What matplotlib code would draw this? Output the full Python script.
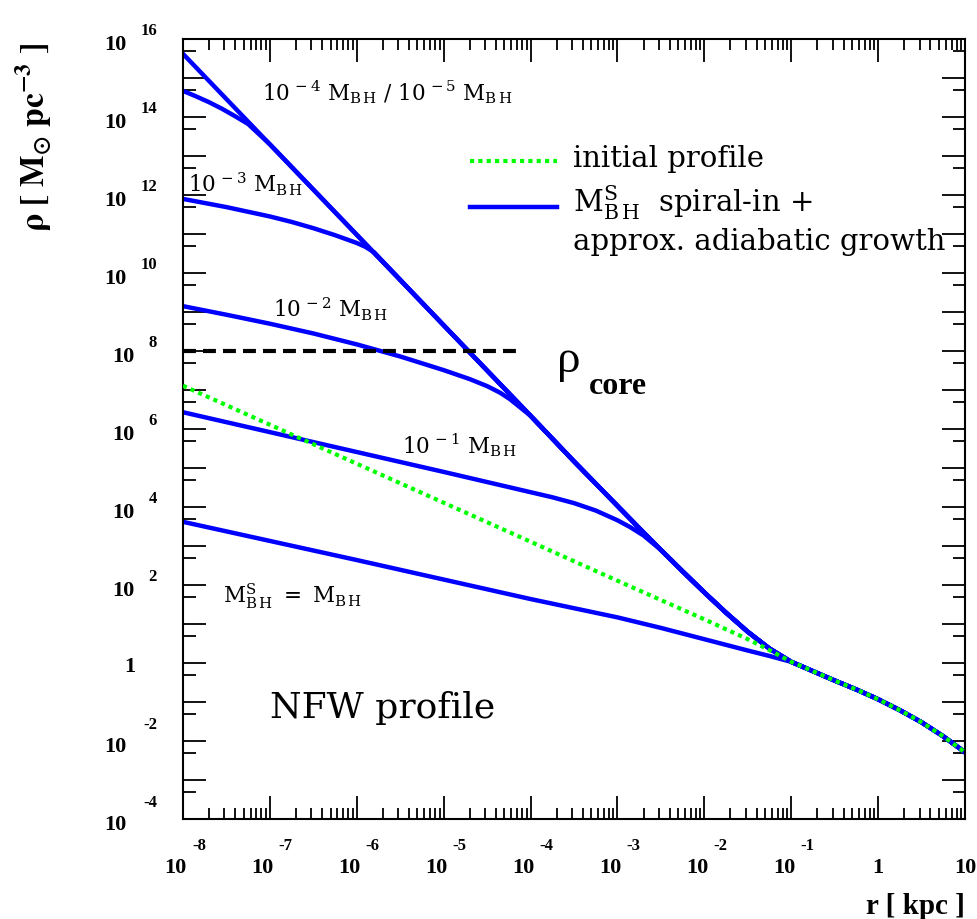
import numpy as np
import matplotlib
matplotlib.use("Agg")
import matplotlib.pyplot as plt
from matplotlib import transforms
from matplotlib.lines import Line2D
from matplotlib.ticker import LogLocator, NullFormatter

plt.rcParams["font.family"] = ["Liberation Serif", "DejaVu Serif"]
plt.rcParams["mathtext.fontset"] = "dejavuserif"
plt.rcParams["mathtext.default"] = "rm"

# all profiles as log10(r / kpc), log10(rho / Msun pc^-3)

# initial NFW profile
nfw_logr = [-8, -7, -6, -5, -4, -3, -2, -1.5, -1.25, -1, -0.75, -0.5, -0.25, 0, 0.25, 0.5, 0.75, 1]
nfw_logrho = [7.11, 6.11, 5.11, 4.11, 3.11, 2.11, 1.12, 0.61, 0.33, 0.03, -0.21, -0.45, -0.68,
              -0.93, -1.21, -1.52, -1.88, -2.29]

# 10^-5 M_BH run: the r^-7/3 spike that the other runs join further out
spike_logr = [-8, -7, -6, -5, -4.5, -4, -3.5, -3.25, -3, -2.75, -2.5, -2.25, -2, -1.75, -1.5,
              -1.25, -1, -0.75, -0.5, -0.25, 0, 0.25, 0.5, 0.75, 1]
spike_logrho = [15.62, 13.30, 10.98, 8.66, 7.50, 6.34, 5.17, 4.60, 4.03, 3.46, 2.90, 2.35, 1.81,
                1.29, 0.80, 0.37, 0.03, -0.21, -0.45, -0.68, -0.93, -1.21, -1.52, -1.88, -2.29]

# inner parts of the other runs, up to where they meet the spike
m4_logr = [-8, -7.85, -7.7, -7.55, -7.4, -7.25]
m4_logrho = [14.67, 14.53, 14.38, 14.21, 14.02, 13.82]

m3_logr = [-8, -7.5, -7, -6.75, -6.5, -6.25, -6, -5.9, -5.8]
m3_logrho = [11.90, 11.69, 11.45, 11.31, 11.15, 10.97, 10.77, 10.67, 10.53]

m2_logr = [-8, -7.5, -7, -6.5, -6, -5.5, -5, -4.7, -4.5, -4.35, -4.24]
m2_logrho = [9.15, 8.93, 8.70, 8.45, 8.17, 7.86, 7.51, 7.28, 7.10, 6.93, 6.77]

m1_logr = [-8, -7, -6, -5, -4, -3.75, -3.5, -3.25, -3, -2.85, -2.7]
m1_logrho = [6.43, 5.92, 5.41, 4.90, 4.38, 4.25, 4.10, 3.91, 3.66, 3.48, 3.27]

m0_logr = [-8, -7, -6, -5, -4, -3, -2.5, -2, -1.5, -1.25]
m0_logrho = [3.62, 3.13, 2.64, 2.14, 1.64, 1.17, 0.90, 0.61, 0.32, 0.18]

rho_core = 1e8
core_rmax = 8e-5

x_exps = [-8, -7, -6, -5, -4, -3, -2, -1, 0, 1]
y_exps = [16, 14, 12, 10, 8, 6, 4, 2, 0, -2, -4]


def with_spike(lr, lrho):
    # continue an inner profile along the spike beyond its last point
    xs = list(lr) + [x for x in spike_logr if x > lr[-1]]
    ys = list(lrho) + [y for x, y in zip(spike_logr, spike_logrho) if x > lr[-1]]
    return 10.0 ** np.array(xs), 10.0 ** np.array(ys)


fig = plt.figure(figsize=(9.78, 9.2), dpi=100)
ax = fig.add_axes([0.1871, 0.1087, 0.7996, 0.8478])
ax.set_xscale("log")
ax.set_yscale("log")
ax.set_xlim(1e-8, 10)
ax.set_ylim(1e-4, 1e16)

blue = "#0000ff"
ax.plot(10.0 ** np.array(spike_logr), 10.0 ** np.array(spike_logrho), color=blue, lw=3.2)
for lr, lrho in [(m4_logr, m4_logrho), (m3_logr, m3_logrho), (m2_logr, m2_logrho),
                 (m1_logr, m1_logrho), (m0_logr, m0_logrho)]:
    r, rho = with_spike(lr, lrho)
    ax.plot(r, rho, color=blue, lw=3.2)

ax.plot(10.0 ** np.array(nfw_logr), 10.0 ** np.array(nfw_logrho), color="#00ff00", lw=3,
        ls=(0, (1, 1)), zorder=3)

ax.hlines(rho_core, 1e-8, core_rmax, colors="black", lw=3, linestyles=(0, (3.1, 1.7)))

# frame and ticks
for sp in ax.spines.values():
    sp.set_linewidth(1.5)
ax.xaxis.set_major_locator(LogLocator(base=10, numticks=30))
ax.xaxis.set_minor_locator(LogLocator(base=10, subs=np.arange(2, 10), numticks=30))
ax.yaxis.set_major_locator(LogLocator(base=10, numticks=50))
ax.yaxis.set_minor_locator(LogLocator(base=10, subs=(5.0,), numticks=50))
for a in (ax.xaxis, ax.yaxis):
    a.set_major_formatter(NullFormatter())
    a.set_minor_formatter(NullFormatter())
ax.tick_params(which="both", direction="in", top=True, right=True, width=1.3, color="black")
ax.tick_params(which="major", length=16.5)
ax.tick_params(axis="x", which="minor", length=8)
ax.tick_params(axis="y", which="minor", length=9)

# tick labels: "10" with a raised exponent
big = dict(fontsize=16, fontweight="bold", family="Liberation Serif")
small = dict(fontsize=12, fontweight="bold", family="Liberation Serif")
ytr = ax.get_yaxis_transform()
for e in y_exps:
    if e == 0:
        ax.text(0, 1.0, "1", ha="right", va="baseline",
                transform=transforms.offset_copy(ytr, fig=fig, x=-48, y=-8, units="dots"), **big)
        continue
    s = str(e)
    dx = -56 if len(s) == 2 else -48
    dy = 5 if e > 0 else 13
    ax.text(0, 10.0 ** e, "10", ha="right", va="baseline",
            transform=transforms.offset_copy(ytr, fig=fig, x=dx, y=-10, units="dots"), **big)
    ax.text(0, 10.0 ** e, s, ha="right", va="baseline",
            transform=transforms.offset_copy(ytr, fig=fig, x=-26, y=dy, units="dots"), **small)

xtr = ax.get_xaxis_transform()
for e in x_exps:
    if e in (0, 1):
        ax.text(10.0 ** e, 0, "1" if e == 0 else "10", ha="center", va="baseline",
                transform=transforms.offset_copy(xtr, fig=fig, x=0, y=-53, units="dots"), **big)
        continue
    ax.text(10.0 ** e, 0, "10", ha="right", va="baseline",
            transform=transforms.offset_copy(xtr, fig=fig, x=4, y=-53, units="dots"), **big)
    ax.text(10.0 ** e, 0, str(e), ha="left", va="baseline",
            transform=transforms.offset_copy(xtr, fig=fig, x=9, y=-30, units="dots"), **small)

fig.text(0.9867, 0.006, "r [ kpc ]", ha="right", va="baseline", fontsize=21,
         fontweight="bold", family="Liberation Serif")
fig.text(0.034, 0.851, r"$\mathbf{\rho\ [\ M_{\odot}\ pc^{-3}\ ]}$", rotation=90,
         ha="center", va="center", fontsize=24, math_fontfamily="stix")

# curve labels
bh = r"\mathrm{M}_{\mathrm{B\,H}}"
lab = dict(fontsize=15.5, ha="left", va="baseline", transform=ax.transAxes)
ax.text(0.101, 0.922, r"$10^{\,-4}\ " + bh + r"\ /\ 10^{\,-5}\ " + bh + "$", **lab)
ax.text(0.0064, 0.804, r"$10^{\,-3}\ " + bh + "$", **lab)
ax.text(0.115, 0.645, r"$10^{\,-2}\ " + bh + "$", **lab)
ax.text(0.280, 0.4705, r"$10^{\,-1}\ " + bh + "$", **lab)
ax.text(0.051, 0.278, r"$\mathrm{M}^{\mathrm{S}}_{\mathrm{B\,H}}\ =\ " + bh + "$", **lab)
ax.text(0.111, 0.131, "NFW profile", fontsize=26, ha="left", va="baseline",
        transform=ax.transAxes, family="DejaVu Serif")

ax.text(0.478, 0.575, "\u03c1", fontsize=34, ha="left", va="baseline",
        transform=ax.transAxes, family="Liberation Serif")
ax.text(0.519, 0.575, "core", fontsize=23, fontweight="bold", ha="left", va="top",
        transform=ax.transAxes, family="Liberation Serif")

# legend
ax.add_line(Line2D([0.367, 0.478], [0.8436, 0.8436], transform=ax.transAxes,
                   color="#00ff00", lw=3, ls=(0, (1, 1))))
ax.add_line(Line2D([0.367, 0.478], [0.7846, 0.7846], transform=ax.transAxes,
                   color=blue, lw=3.2))
leg = dict(fontsize=21, ha="left", va="baseline", transform=ax.transAxes, family="DejaVu Serif")
ax.text(0.4987, 0.8372, "initial profile", **leg)
ax.text(0.4987, 0.7795, r"$\mathrm{M}^{\mathrm{S}}_{\mathrm{B\,H}}$  spiral-in +", **leg)
ax.text(0.4987, 0.731, "approx. adiabatic growth", **leg)

fig.savefig("out.png", dpi=100)
